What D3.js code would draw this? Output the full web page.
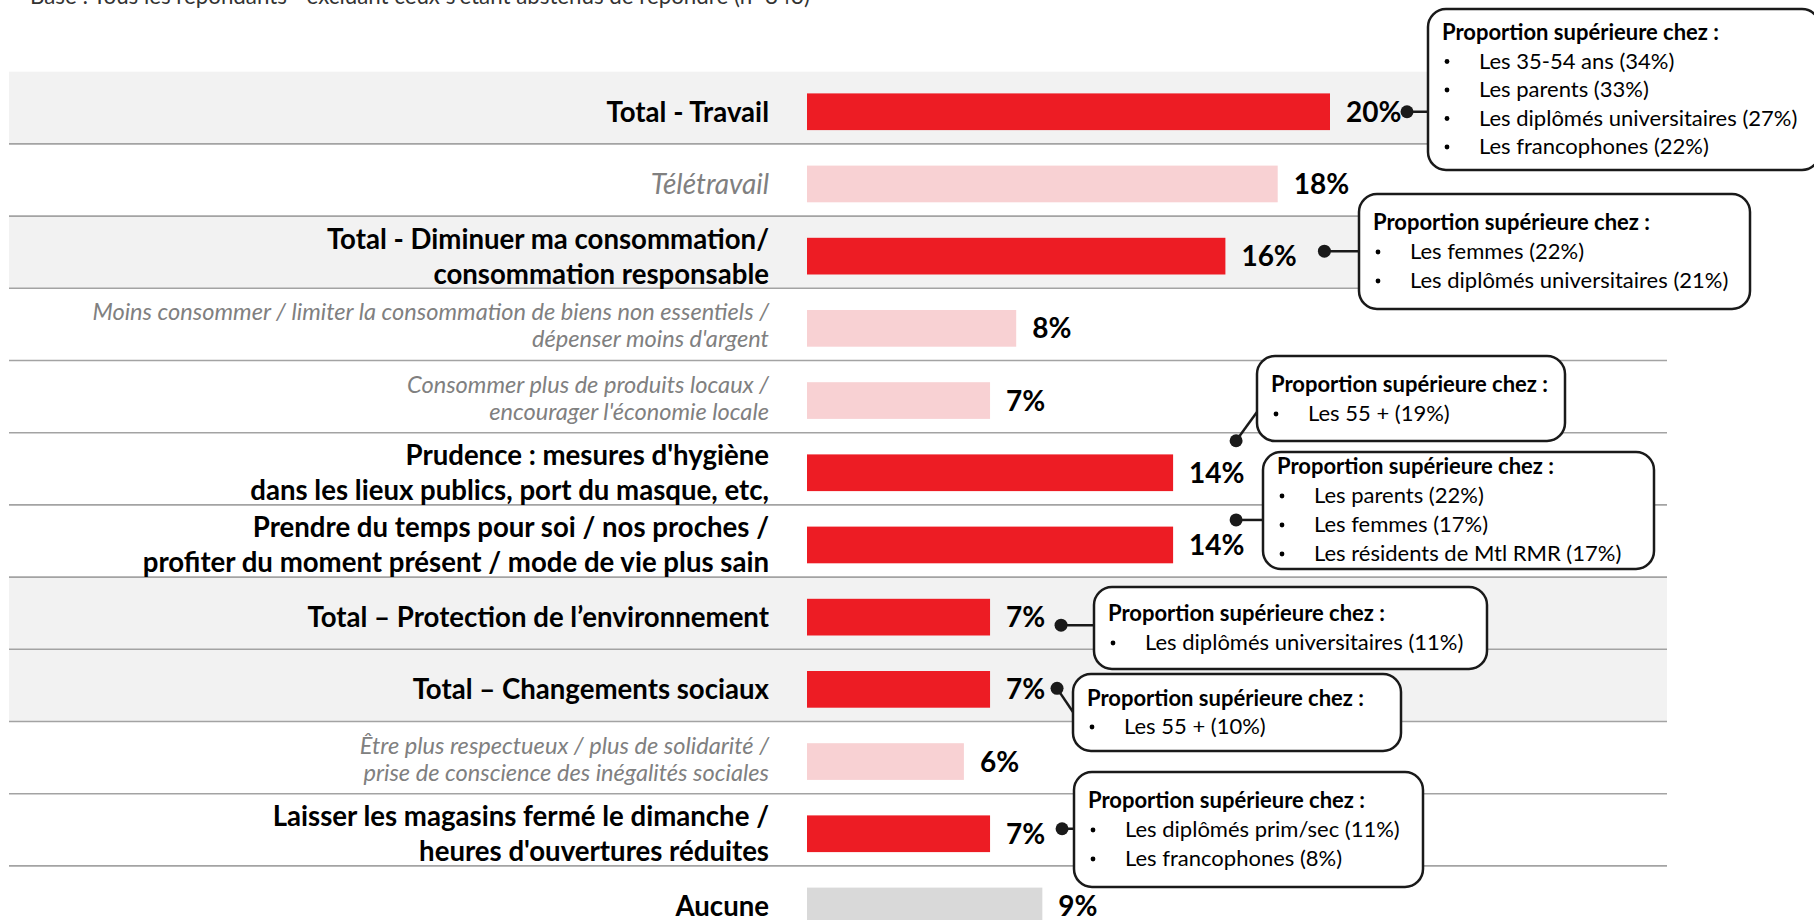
<!DOCTYPE html>
<html>
<head>
<meta charset="utf-8">
<script src="https://cdn.jsdelivr.net/npm/d3@7"></script>
<style>
  body { margin: 0; background: #fff; overflow: hidden; }
  svg { display: block; font-family: Lato, "Open Sans", sans-serif; }
  .cat-bold { font-weight: 700; fill: #000; }
  .cat-sub { font-style: italic; font-weight: 400; fill: #808080; }
  .value { font-weight: 700; fill: #000; }
  .note-title { font-weight: 700; fill: #000; }
  .note-item { font-weight: 400; fill: #000; }
</style>
</head>
<body>
<svg id="chart"></svg>
<script>
// ---- data ----
const labels = [
  ["Total - Travail"],
  ["Télétravail"],
  ["Total - Diminuer ma consommation/", "consommation responsable"],
  ["Moins consommer / limiter la consommation de biens non essentiels /", "dépenser moins d'argent"],
  ["Consommer plus de produits locaux /", "encourager l'économie locale"],
  ["Prudence : mesures d'hygiène", "dans les lieux publics, port du masque, etc,"],
  ["Prendre du temps pour soi / nos proches /", "profiter du moment présent / mode de vie plus sain"],
  ["Total – Protection de l’environnement"],
  ["Total – Changements sociaux"],
  ["Être plus respectueux / plus de solidarité /", "prise de conscience des inégalités sociales"],
  ["Laisser les magasins fermé le dimanche /", "heures d'ouvertures réduites"],
  ["Aucune"]
];
const values = [20, 18, 16, 8, 7, 14, 14, 7, 7, 6, 7, 9];
// total = gray band + red bar, sub = italic detail, main = red bar, none = gray bar
const kinds = ["total", "sub", "total", "sub", "sub", "main", "main", "total", "total", "sub", "main", "none"];

const baseText = "Base : Tous les répondants - excluant ceux s'étant abstenus de répondre (n=843)";
const noteTitle = "Proportion supérieure chez :";
const noteRows = [0, 2, 5, 6, 7, 8, 10];
const noteItems = [
  ["Les 35-54 ans (34%)", "Les parents (33%)", "Les diplômés universitaires (27%)", "Les francophones (22%)"],
  ["Les femmes (22%)", "Les diplômés universitaires (21%)"],
  ["Les 55 + (19%)"],
  ["Les parents (22%)", "Les femmes (17%)", "Les résidents de Mtl RMR (17%)"],
  ["Les diplômés universitaires (11%)"],
  ["Les 55 + (10%)"],
  ["Les diplômés prim/sec (11%)", "Les francophones (8%)"]
];

// ---- layout of the callout boxes (not data) ----
const noteLayout = [
  { x: 1428, y: 9,   w: 392, h: 161, tb: 40,  sp: 28.5, dx: 77, dy: 0 },
  { x: 1359, y: 194, w: 391, h: 115, tb: 230, sp: 29, dx: 99, dy: -5 },
  { x: 1257, y: 356, w: 308, h: 85,  tb: 392, sp: 29, dx: 63, dy: -32, ey: 412 },
  { x: 1263, y: 452, w: 391, h: 117, tb: 474, sp: 29, dx: 63, dy: -25 },
  { x: 1094, y: 587, w: 393, h: 82,  tb: 621, sp: 29, dx: 71, dy: 8 },
  { x: 1073, y: 674, w: 328, h: 77,  tb: 706, sp: 28, dx: 67, dy: -1, ey: 712 },
  { x: 1074, y: 772, w: 349, h: 115, tb: 808, sp: 29, dx: 72, dy: -5 }
];

class BarChart {

    constructor(_config) {
        this.config = {
            parentElement: _config.parentElement,
            containerWidth: _config.containerWidth || 1814,
            containerHeight: _config.containerHeight || 920,
            rowTop: 71.7,
            rowHeight: 72.2,
            barOffset: 21.7,
            barHeight: 36.7,
            labelRight: 769,
            bandLeft: 9,
            bandRight: 1667
        };
        this.initVis();
    }

    initVis() {
        let vis = this;
        const c = vis.config;

        vis.svg = d3.select(c.parentElement)
            .attr('width', c.containerWidth)
            .attr('height', c.containerHeight);

        vis.yScale = d3.scaleBand()
            .domain(d3.range(labels.length))
            .range([c.rowTop, c.rowTop + labels.length * c.rowHeight])
            .padding(0);

        vis.xScale = d3.scaleLinear()
            .domain([0, 20])
            .range([807, 1330]);

        vis.colors = { total: '#ED1C24', main: '#ED1C24', sub: '#F8D1D3', none: '#D9D9D9' };

        vis.renderVis();
    }

    renderVis() {
        let vis = this;
        const c = vis.config;
        const rows = labels.map((l, i) => ({ i: i, lines: l, val: values[i], kind: kinds[i] }));
        const barMid = d => vis.yScale(d.i) + c.barOffset + c.barHeight / 2;
        // single line italic labels are set larger in the original
        const labelSize = d => d.kind !== 'sub' ? 27.6 : (d.lines.length === 1 ? 28 : 23.6);

        // base text, cut at the top edge
        vis.svg.append('text')
            .attr('x', 30)
            .attr('y', 4)
            .attr('font-size', 22.3)
            .attr('fill', '#333')
            .text(baseText);

        // gray bands behind total rows
        vis.svg.append('g').selectAll('rect')
            .data(rows.filter(d => d.kind === 'total'))
            .join('rect')
            .attr('x', c.bandLeft)
            .attr('y', d => vis.yScale(d.i))
            .attr('width', c.bandRight - c.bandLeft)
            .attr('height', vis.yScale.bandwidth())
            .attr('fill', '#F2F2F2');

        // separators
        vis.svg.append('g').selectAll('line')
            .data(rows.slice(0, rows.length - 1))
            .join('line')
            .attr('x1', c.bandLeft)
            .attr('x2', c.bandRight)
            .attr('y1', d => vis.yScale(d.i) + vis.yScale.bandwidth())
            .attr('y2', d => vis.yScale(d.i) + vis.yScale.bandwidth())
            .attr('stroke', '#a3a3a3')
            .attr('stroke-width', 1.6);

        // bars
        vis.svg.append('g').selectAll('rect')
            .data(rows)
            .join('rect')
            .attr('x', vis.xScale(0))
            .attr('y', d => vis.yScale(d.i) + c.barOffset)
            .attr('width', d => vis.xScale(d.val) - vis.xScale(0))
            .attr('height', c.barHeight)
            .attr('fill', d => vis.colors[d.kind]);

        // category labels
        const lab = vis.svg.append('g').selectAll('text')
            .data(rows)
            .join('text')
            .attr('class', d => d.kind === 'sub' ? 'cat-sub' : 'cat-bold')
            .attr('font-size', labelSize)
            .attr('text-anchor', 'end');

        lab.each(function(d) {
            const sub = d.kind === 'sub';
            const gap = sub ? 27 : 35;
            const fs = labelSize(d);
            const mid = barMid(d) - (sub && d.lines.length > 1 ? 3 : 0);
            const n = d.lines.length;
            d3.select(this).selectAll('tspan')
                .data(d.lines)
                .join('tspan')
                .attr('x', c.labelRight)
                .attr('y', (t, k) => mid + (k - (n - 1) / 2) * gap + fs * 0.36)
                .text(t => t);
        });

        // value labels
        vis.svg.append('g').selectAll('text')
            .data(rows)
            .join('text')
            .attr('class', 'value')
            .attr('font-size', 28)
            .attr('x', d => vis.xScale(d.val) + 16)
            .attr('y', d => barMid(d) + 10)
            .text(d => d.val + '%');

        // callouts
        const notes = noteRows.map((r, k) => ({ row: rows[r], items: noteItems[k], lay: noteLayout[k] }));
        const ng = vis.svg.append('g').selectAll('g')
            .data(notes)
            .join('g');

        ng.each(function(d) {
            const g = d3.select(this);
            const L = d.lay;
            const dotX = vis.xScale(d.row.val) + L.dx;
            const dotY = barMid(d.row) + L.dy;
            const endY = L.ey !== undefined ? L.ey : dotY;

            g.append('line')
                .attr('x1', dotX).attr('y1', dotY)
                .attr('x2', L.x).attr('y2', endY)
                .attr('stroke', '#1a1a1a')
                .attr('stroke-width', 2.5);

            g.append('rect')
                .attr('x', L.x).attr('y', L.y)
                .attr('width', L.w).attr('height', L.h)
                .attr('rx', 18).attr('ry', 18)
                .attr('fill', '#fff')
                .attr('stroke', '#1a1a1a')
                .attr('stroke-width', 2.5);

            g.append('circle')
                .attr('cx', dotX).attr('cy', dotY)
                .attr('r', 6.5)
                .attr('fill', '#1a1a1a');

            g.append('text')
                .attr('class', 'note-title')
                .attr('font-size', 22)
                .attr('x', L.x + 14)
                .attr('y', L.tb)
                .text(noteTitle);

            d.items.forEach((t, k) => {
                const y = L.tb + (k + 1) * L.sp;
                g.append('circle')
                    .attr('cx', L.x + 19)
                    .attr('cy', y - 7)
                    .attr('r', 2.4)
                    .attr('fill', '#000');
                g.append('text')
                    .attr('class', 'note-item')
                    .attr('font-size', 22)
                    .attr('x', L.x + 51)
                    .attr('y', y)
                    .text(t);
            });
        });
    }
}

new BarChart({ parentElement: '#chart' });
</script>
</body>
</html>
